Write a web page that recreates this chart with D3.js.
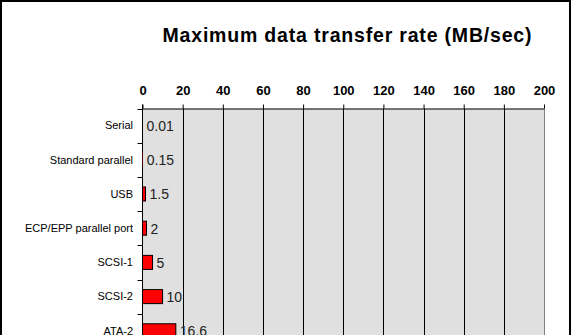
<!DOCTYPE html>
<html>
<head>
<meta charset="utf-8">
<script src="https://cdn.jsdelivr.net/npm/d3@7"></script>
<style>
  body { margin: 0; background: #fff; }
  svg { display: block; }
  .cat { font-family: "Liberation Sans", Arial, sans-serif; font-size: 11px; fill: #000; }
  .val { font-family: "Liberation Sans", Arial, sans-serif; font-size: 14px; fill: #222; }
  .xtick text { font-family: "Liberation Sans", Arial, sans-serif; font-weight: bold; font-size: 13px; fill: #000; }
  .title { font-family: "Liberation Sans", Arial, sans-serif; font-weight: bold; font-size: 19.5px; fill: #000; }
</style>
</head>
<body>
<div id="chart"></div>
<script>
var svgWidth = 571;
var svgHeight = 335;

// data
var categories = ["Serial", "Standard parallel", "USB", "ECP/EPP parallel port", "SCSI-1", "SCSI-2", "ATA-2"];
var rates = [0.01, 0.15, 1.5, 2, 5, 10, 16.6];
var valueLabels = ["0.01", "0.15", "1.5", "2", "5", "10", "16.6"];
var xTicks = [0, 20, 40, 60, 80, 100, 120, 140, 160, 180, 200];

var plot = { left: 142.5, right: 544, top: 108.5, band: 34.2 };

var svg = d3.select("#chart")
  .append("svg")
  .attr("width", svgWidth)
  .attr("height", svgHeight);

// outer frame
svg.append("rect")
  .attr("x", 1)
  .attr("y", 1)
  .attr("width", svgWidth - 2)
  .attr("height", 500)
  .attr("fill", "#fff")
  .attr("stroke", "#000")
  .attr("stroke-width", 2);

var xScale = d3.scaleLinear()
  .domain([0, 200])
  .range([plot.left, plot.right]);

var yScale = d3.scaleBand()
  .domain(categories)
  .range([plot.top, plot.top + plot.band * categories.length])
  .paddingInner(0.59)
  .paddingOuter(0.295);

var plotBottom = plot.top + plot.band * categories.length;

// plot background
svg.append("rect")
  .attr("x", xScale(0))
  .attr("y", plot.top)
  .attr("width", xScale(200) - xScale(0))
  .attr("height", plotBottom - plot.top)
  .attr("fill", "#e0e0e0");

// vertical gridlines
svg.append("g")
  .selectAll("line")
  .data(xTicks.slice(1))
  .enter()
  .append("line")
  .attr("x1", d => Math.round(xScale(d)) + 0.5)
  .attr("x2", d => Math.round(xScale(d)) + 0.5)
  .attr("y1", plot.top)
  .attr("y2", plotBottom)
  .attr("stroke", d => d === 200 ? "#808080" : "#000");

// top axis
var topAxis = d3.axisTop(xScale)
  .tickValues(xTicks)
  .tickSize(4)
  .tickPadding(10)
  .tickSizeOuter(0);

svg.append("g")
  .attr("class", "xtick")
  .attr("transform", `translate(0, ${plot.top})`)
  .call(topAxis)
  .call(g => g.select(".domain").attr("stroke", "#000"))
  .call(g => g.selectAll(".tick line").attr("stroke", "#000"));

// left axis: line and ticks at band edges
svg.append("line")
  .attr("x1", plot.left)
  .attr("x2", plot.left)
  .attr("y1", plot.top - 4)
  .attr("y2", plotBottom)
  .attr("stroke", "#000");

svg.append("g")
  .selectAll("line")
  .data(d3.range(categories.length + 1))
  .enter()
  .append("line")
  .attr("x1", plot.left - 5)
  .attr("x2", plot.left)
  .attr("y1", i => Math.round(plot.top + i * plot.band) + 0.5)
  .attr("y2", i => Math.round(plot.top + i * plot.band) + 0.5)
  .attr("stroke", "#000");

// bars
svg.append("g")
  .selectAll("rect")
  .data(categories)
  .enter()
  .append("rect")
  .attr("x", xScale(0))
  .attr("y", d => yScale(d))
  .attr("width", (d, i) => xScale(rates[i]) - xScale(0))
  .attr("height", yScale.bandwidth())
  .attr("fill", "#ff0000")
  .attr("stroke", (d, i) => rates[i] < 1 ? "none" : "#000")
  .attr("stroke-width", 1);

// value labels
svg.append("g")
  .selectAll("text")
  .data(categories)
  .enter()
  .append("text")
  .attr("class", "val")
  .attr("x", (d, i) => xScale(rates[i]) + 4)
  .attr("y", d => yScale(d) + yScale.bandwidth() / 2)
  .attr("dy", "0.38em")
  .text((d, i) => valueLabels[i]);

// category labels
svg.append("g")
  .selectAll("text")
  .data(categories)
  .enter()
  .append("text")
  .attr("class", "cat")
  .attr("x", 133)
  .attr("y", d => yScale(d) + yScale.bandwidth() / 2)
  .attr("dy", "0.35em")
  .attr("text-anchor", "end")
  .text(d => d);

// title
svg.append("text")
  .attr("class", "title")
  .attr("x", 347)
  .attr("y", 42)
  .attr("text-anchor", "middle")
  .attr("textLength", 369)
  .attr("lengthAdjust", "spacing")
  .text("Maximum data transfer rate (MB/sec)");
</script>
</body>
</html>
